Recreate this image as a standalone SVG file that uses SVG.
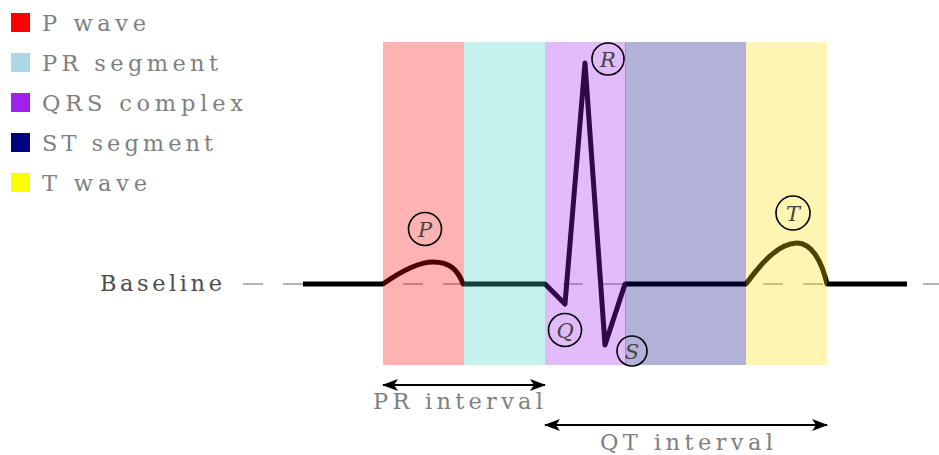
<svg xmlns="http://www.w3.org/2000/svg" width="939" height="455" viewBox="0 0 939 455">
<style>
.leg{font-family:"DejaVu Serif",serif;font-size:22.5px;fill:#808080}
.lab{font-family:"DejaVu Serif",serif;font-size:22.5px;fill:#808080}
.base{font-family:"DejaVu Serif",serif;font-size:22.5px;fill:#4d4d4d}
.pt{font-family:"DejaVu Serif",serif;font-style:italic;font-size:21px;fill:#444;text-anchor:middle}
.ring{fill:none;stroke:#000;stroke-width:1.6}
.band{opacity:0.3}
.arr{stroke:#000;stroke-width:1.8;fill:none;marker-start:url(#ah);marker-end:url(#ah)}
</style>
<defs>
<marker id="ah" viewBox="0 0 16 12" refX="15" refY="6" markerWidth="16" markerHeight="12" markerUnits="userSpaceOnUse" orient="auto-start-reverse">
<path d="M0,0 L16,6 L0,12 L4,6 Z" fill="#000"/>
</marker>
</defs>
<rect width="939" height="455" fill="#fff"/>
<g id="legend">
<rect x="11" y="13" width="19" height="19" fill="#ff0000"/>
<text class="leg" x="42" y="31" textLength="104" lengthAdjust="spacing">P wave</text>
<rect x="11" y="53" width="19" height="19" fill="#add8e6"/>
<text class="leg" x="42" y="71" textLength="176" lengthAdjust="spacing">PR segment</text>
<rect x="11" y="93" width="19" height="19" fill="#a020f0"/>
<text class="leg" x="42" y="111" textLength="201" lengthAdjust="spacing">QRS complex</text>
<rect x="11" y="133" width="19" height="19" fill="#000080"/>
<text class="leg" x="42" y="151" textLength="171" lengthAdjust="spacing">ST segment</text>
<rect x="11" y="173" width="19" height="19" fill="#ffff00"/>
<text class="leg" x="42" y="191" textLength="105" lengthAdjust="spacing">T wave</text>
</g>
<g id="baseline">
<text class="base" x="100" y="291" textLength="122" lengthAdjust="spacing">Baseline</text>
<line x1="243" y1="284" x2="945" y2="284" stroke="#b3b3b3" stroke-width="2" stroke-dasharray="20 20"/>
</g>
<g id="ecg">
<path d="M303,284 L383,284 C400,272 418,262 433,262 C450,262 458,270 463,284 L545,284 L565,304 L585,63 L605,345 L625,284 L746,284 C760,265 778,243 797,243 C812,243 822,262 827,284 L907,284" fill="none" stroke="#000" stroke-width="5" stroke-linejoin="round"/>
</g>
<g id="bands">
<rect id="band-p" class="band" x="383" y="42" width="81" height="323" fill="#ff0000"/>
<rect id="band-pr" class="band" x="464" y="42" width="81" height="323" fill="#41d4c6"/>
<rect id="band-st" class="band" x="625" y="42" width="121" height="323" fill="#000080"/>
<rect id="band-qrs" class="band" x="545" y="42" width="81" height="323" fill="#a020f0"/>
<rect id="band-t" class="band" x="746" y="42" width="81" height="323" fill="#ffdf00"/>
</g>
<g id="point-P"><circle class="ring" cx="425" cy="229" r="16.5"/><text class="pt" x="425" y="236.5">P</text></g>
<g id="point-R"><circle class="ring" cx="608" cy="59" r="16"/><text class="pt" x="608" y="66.5">R</text></g>
<g id="point-Q"><circle class="ring" cx="565" cy="330" r="16.5"/><text class="pt" x="565" y="337.5">Q</text></g>
<g id="point-S"><circle class="ring" cx="632" cy="351" r="15"/><text class="pt" x="632" y="358.5">S</text></g>
<g id="point-T"><circle class="ring" cx="793" cy="213" r="17"/><text class="pt" x="793" y="220.5">T</text></g>
<g id="connectors">
<line class="arr" x1="383" y1="385" x2="545" y2="385"/>
<line class="arr" x1="545" y1="425" x2="827" y2="425"/>
</g>
<g id="labels">
<text class="lab" x="373" y="409" textLength="170" lengthAdjust="spacing">PR interval</text>
<text class="lab" x="600" y="450" textLength="173" lengthAdjust="spacing">QT interval</text>
</g>
</svg>
